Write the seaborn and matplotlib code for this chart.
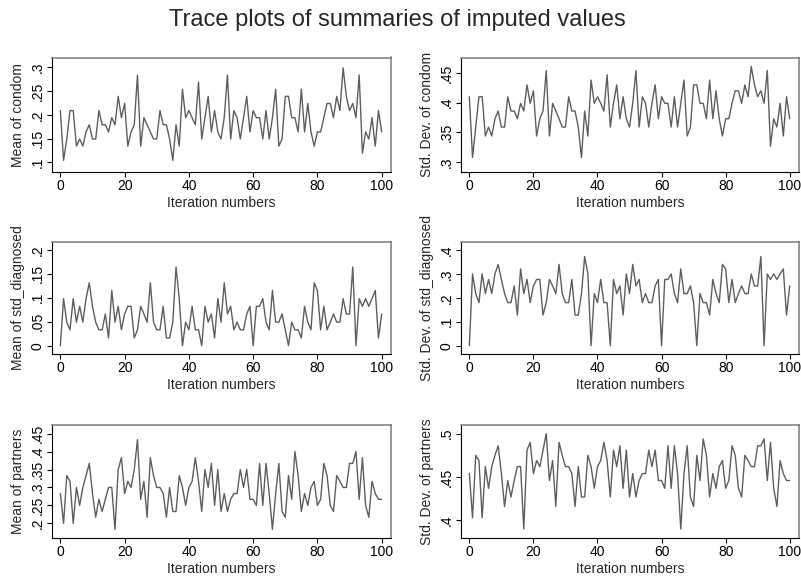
import matplotlib
matplotlib.use("Agg")
import matplotlib.pyplot as plt
import seaborn as sns
import pandas as pd

iterations = list(range(101))

condom_mean = [.209, .104, .149, .209, .209, .134, .149, .134, .164, .179,
               .149, .149, .209, .179, .179, .164, .194, .179, .239, .194,
               .224, .134, .164, .179, .284, .134, .194, .179, .164, .149,
               .149, .209, .179, .179, .149, .104, .179, .134, .254, .194,
               .209, .194, .179, .269, .149, .194, .239, .164, .209, .164,
               .149, .194, .284, .149, .209, .194, .149, .194, .239, .164,
               .209, .194, .194, .149, .209, .149, .194, .254, .134, .149,
               .239, .239, .194, .194, .164, .254, .164, .224, .164, .134,
               .164, .164, .194, .224, .224, .194, .239, .209, .299, .239,
               .209, .224, .194, .284, .119, .164, .149, .194, .134, .209,
               .164]

condom_sd = [.410, .308, .359, .410, .410, .344, .359, .344, .373, .386,
             .359, .359, .410, .386, .386, .373, .399, .386, .430, .399,
             .420, .344, .373, .386, .454, .344, .399, .386, .373, .359,
             .359, .410, .386, .386, .359, .308, .386, .344, .438, .399,
             .410, .399, .386, .447, .359, .399, .430, .373, .410, .373,
             .359, .399, .454, .359, .410, .399, .359, .399, .430, .373,
             .410, .399, .399, .359, .410, .359, .399, .438, .344, .359,
             .430, .430, .399, .399, .373, .438, .373, .420, .373, .344,
             .373, .373, .399, .420, .420, .399, .430, .410, .461, .430,
             .410, .420, .399, .454, .327, .373, .359, .399, .344, .410,
             .373]

std_mean = [0, .098, .049, .033, .098, .049, .082, .049, .098, .131,
            .082, .049, .033, .033, .066, .016, .115, .049, .082, .033,
            .066, .082, .082, .016, .033, .082, .066, .049, .131, .049,
            .033, .033, .082, .016, .016, .049, .164, .098, 0, .049,
            .033, .082, .033, .033, 0, .082, .049, .066, .016, .098,
            .049, .131, .066, .082, .033, .049, .033, .033, .066, .082,
            0, .082, .082, .098, .049, .033, .115, .049, .049, .066,
            .033, 0, .049, .033, .033, .016, .082, .049, .033, .131,
            .115, .033, .082, .033, .049, .066, .049, .049, .098, .066,
            .066, .164, 0, .098, .082, .098, .082, .098, .115, .016,
            .066]

std_sd = [0, .300, .218, .180, .300, .218, .277, .218, .300, .340,
          .277, .218, .180, .180, .250, .128, .321, .218, .277, .180,
          .250, .277, .277, .128, .180, .277, .250, .218, .340, .218,
          .180, .180, .277, .128, .128, .218, .373, .300, 0, .218,
          .180, .277, .180, .180, 0, .277, .218, .250, .128, .300,
          .218, .340, .250, .277, .180, .218, .180, .180, .250, .277,
          0, .277, .277, .300, .218, .180, .321, .218, .218, .250,
          .180, 0, .218, .180, .180, .128, .277, .218, .180, .340,
          .321, .180, .277, .180, .218, .250, .218, .218, .300, .250,
          .250, .373, 0, .300, .277, .300, .277, .300, .321, .128,
          .250]

partners_mean = [.283, .2, .333, .317, .2, .3, .25, .3, .333, .367,
                 .283, .217, .267, .233, .267, .3, .3, .183, .35, .383,
                 .283, .317, .3, .35, .433, .267, .317, .217, .383, .333,
                 .3, .3, .283, .217, .3, .233, .233, .333, .3, .25,
                 .3, .317, .383, .317, .233, .35, .3, .367, .25, .35,
                 .233, .283, .233, .267, .283, .283, .35, .3, .35, .267,
                 .267, .25, .367, .25, .367, .283, .183, .283, .367, .233,
                 .217, .333, .267, .4, .333, .233, .283, .25, .3, .317,
                 .25, .267, .367, .333, .25, .233, .333, .317, .3, .3,
                 .367, .367, .4, .267, .383, .25, .217, .317, .283, .267,
                 .267]

partners_sd = [.454, .403, .475, .469, .403, .462, .437, .462, .475, .486,
               .454, .416, .446, .427, .446, .462, .462, .390, .481, .490,
               .454, .469, .462, .481, .500, .446, .469, .416, .490, .475,
               .462, .462, .454, .416, .462, .427, .427, .475, .462, .437,
               .462, .469, .490, .469, .427, .481, .462, .486, .437, .481,
               .427, .454, .427, .446, .454, .454, .481, .462, .481, .446,
               .446, .437, .486, .437, .486, .454, .390, .454, .486, .427,
               .416, .475, .446, .494, .475, .427, .454, .437, .462, .469,
               .437, .446, .486, .475, .437, .427, .475, .469, .462, .462,
               .486, .486, .494, .446, .490, .437, .416, .469, .454, .446,
               .446]

xticks = [0, 20, 40, 60, 80, 100]
title = "Trace plots of summaries of imputed values"
xlabel = "Iteration numbers"

sns.set_style("ticks")
plt.rcParams['font.family'] = ['Liberation Sans', 'DejaVu Sans']


def stata_fmt(v):
    s = f"{v:g}"
    if s.startswith("0."):
        s = s[1:]
    return s


W, H = 801, 577
fig = plt.figure(figsize=(W / 100, H / 100), dpi=100)

L = (52, 391)
R = (461, 799)
rows = [(57.5, 171.7), (241.7, 354), (425, 537.7)]

panels = [
    (L, rows[0], condom_mean, "Mean of condom", [.1, .15, .2, .25, .3], (.080, .321)),
    (R, rows[0], condom_sd, "Std. Dev. of condom", [.3, .35, .4, .45], (.284, .476)),
    (L, rows[1], std_mean, "Mean of std_diagnosed", [0, .05, .1, .15, .2], (-.0174, .2167)),
    (R, rows[1], std_sd, "Std. Dev. of std_diagnosed", [0, .1, .2, .3, .4], (-.035, .435)),
    (L, rows[2], partners_mean, "Mean of partners", [.2, .25, .3, .35, .4, .45], (.16, .474)),
    (R, rows[2], partners_sd, "Std. Dev. of partners", [.4, .45, .5], (.380, .510)),
]

for (x0, x1), (y0, y1), vals, lab, yt, ylim in panels:
    ax = fig.add_axes([x0 / W, 1 - y1 / H, (x1 - x0) / W, (y1 - y0) / H])
    df = pd.DataFrame({"iter": iterations, "val": vals})
    sns.lineplot(data=df, x="iter", y="val", ax=ax, color="#5e5e5e", linewidth=1.0)
    ax.set_xlim(-2.6, 102.9)
    ax.set_ylim(*ylim)
    ax.set_xticks(xticks)
    ax.set_xticklabels([str(t) for t in xticks])
    ax.set_yticks(yt)
    ax.set_yticklabels([stata_fmt(v) for v in yt], rotation=90, va="center")
    ax.set_xlabel(xlabel, fontsize=10, labelpad=2)
    ax.set_ylabel(lab, fontsize=10, labelpad=4)
    for s in ("left", "bottom"):
        ax.spines[s].set_color("black")
        ax.spines[s].set_linewidth(0.8)
    for s in ("top", "right"):
        ax.spines[s].set_visible(True)
        ax.spines[s].set_color("#7a7a7a")
        ax.spines[s].set_linewidth(1.1)
    ax.tick_params(axis="both", direction="out", length=3.7, width=0.8,
                   pad=1.5, labelsize=10, colors="black", left=True, bottom=True)
    ax.grid(False)

fig.text(0.496, 0.965, title, ha="center", va="center", fontsize=17)
fig.savefig("out.png", dpi=100)
